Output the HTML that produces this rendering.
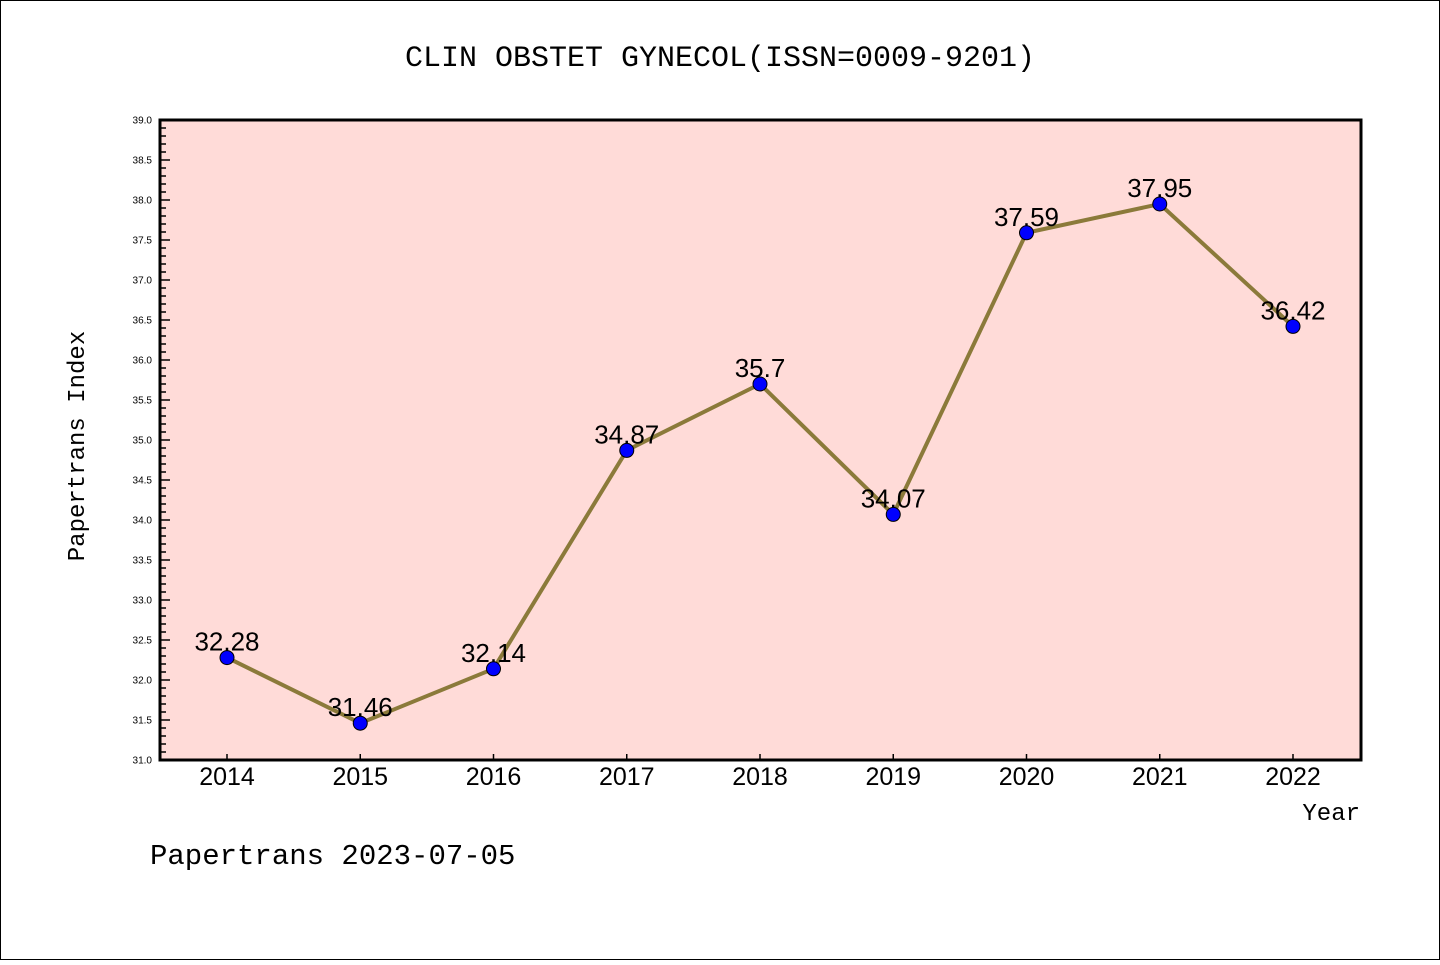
<!DOCTYPE html>
<html><head><meta charset="utf-8"><style>
body{margin:0;background:#fff}
svg text{font-family:"Liberation Mono","DejaVu Sans Mono",monospace}
svg text.sans{font-family:"Liberation Sans","DejaVu Sans",sans-serif}
</style></head><body>
<svg id="chart" width="1440" height="960" xmlns="http://www.w3.org/2000/svg">
<rect x="0.5" y="0.5" width="1439" height="959" fill="#fff" stroke="#000"/>
<text x="720" y="66" font-size="30" text-anchor="middle">CLIN OBSTET GYNECOL(ISSN=0009-9201)</text>
<rect x="160" y="120" width="1201" height="640" fill="#ffdbd8"/>
<g id="yticks"></g><g id="xticks"></g>
<polyline id="line" fill="none" stroke="#8b7a3a" stroke-width="4"/>
<g id="points"></g>
<rect x="160" y="120" width="1201" height="640" fill="none" stroke="#000" stroke-width="3"/>
<text transform="translate(84,446) rotate(-90)" font-size="24" text-anchor="middle">Papertrans Index</text>
<text x="1360" y="820" font-size="24" text-anchor="end">Year</text>
<text x="150" y="864" font-size="29">Papertrans 2023-07-05</text>
</svg>
<script>
const years=[2014,2015,2016,2017,2018,2019,2020,2021,2022];
const values=[32.28,31.46,32.14,34.87,35.7,34.07,37.59,37.95,36.42];
const labels=["32.28","31.46","32.14","34.87","35.7","34.07","37.59","37.95","36.42"];
const yTicks=[31.0,31.5,32.0,32.5,33.0,33.5,34.0,34.5,35.0,35.5,36.0,36.5,37.0,37.5,38.0,38.5,39.0];
const NS="http://www.w3.org/2000/svg";
const yMin=31,yMax=39,plotTop=120,plotBot=760;
const yS=v=>plotBot-(v-yMin)/(yMax-yMin)*(plotBot-plotTop);
const xS=yr=>227+(yr-2014)*133.25;
function mk(tag,attrs,parent){const e=document.createElementNS(NS,tag);for(const k in attrs)e.setAttribute(k,attrs[k]);parent.appendChild(e);return e;}
const yt=document.getElementById('yticks');
for(let i=0;i<=80;i++){const v=yMin+i*0.1;const major=i%5===0;
 const t=mk('line',{x1:160,x2:160+(major?10:6),y1:yS(v),y2:yS(v),stroke:'#000','stroke-width':1.5},yt);
 
 
}
yTicks.forEach(v=>{const t=mk('text',{x:152,y:yS(v)+3.5,'font-size':10,'text-anchor':'end','class':'sans'},yt);t.textContent=v.toFixed(1);
 
 
});
const xt=document.getElementById('xticks');
years.forEach(yr=>{const l=mk('line',{x1:xS(yr),x2:xS(yr),y1:760,y2:754,stroke:'#000','stroke-width':1.5},xt);
 
 
 const t=mk('text',{x:xS(yr),y:785,'font-size':25,'text-anchor':'middle','class':'sans'},xt);t.textContent=yr;
 
 
});
document.getElementById('line').setAttribute('points',years.map((yr,i)=>xS(yr)+','+yS(values[i])).join(' '));
const pg=document.getElementById('points');
years.forEach((yr,i)=>{const c=mk('circle',{cx:xS(yr),cy:yS(values[i]),r:7,fill:'#0000ff',stroke:'#000','stroke-width':1},pg);
 
 
 const t=mk('text',{x:xS(yr),y:yS(values[i])-7,'font-size':26,'text-anchor':'middle','class':'sans'},pg);t.textContent=labels[i];
 
 
});
</script>
</body></html>
